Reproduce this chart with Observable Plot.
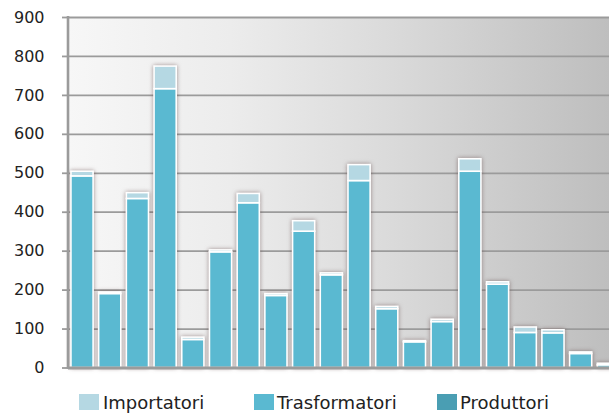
<!DOCTYPE html>
<html><head><meta charset="utf-8">
<script src="https://cdn.jsdelivr.net/npm/d3@7"></script>
<script src="https://cdn.jsdelivr.net/npm/@observablehq/plot@0.6"></script>
<style>
html,body{margin:0;padding:0;background:#fff;overflow:hidden;width:609px;height:413px;}
#chart{position:absolute;left:0;top:0;}
.leg{position:absolute;font-family:"DejaVu Sans",sans-serif;font-size:18px;color:#222;line-height:1;white-space:nowrap;}
.sw{position:absolute;width:20px;height:16px;}
</style></head><body>
<div id="chart"></div>
<div id="legend"></div>
<script>
const categories = ["1","2","3","4","5","6","7","8","9","10","11","12","13","14","15","16","17","18","19","20"];
const produttori    = [0,0,0,0,0,0,0,0,0,0,0,0,0,0,0,0,0,0,0,0];
const trasformatori = [492,190,434,716,72,297,423,185,350,238,480,151,66,118,504,214,90,89,36,7];
const importatori   = [12,4,15,58,6,5,24,5,27,5,41,6,3,6,32,6,14,8,4,4];
const seriesNames = ["Produttori","Trasformatori","Importatori"];
const seriesColors = ["#4a9eb3","#5ab9d1","#b5d8e3"];
const legendOrder = ["Importatori","Trasformatori","Produttori"];
const yTicks = [0,100,200,300,400,500,600,700,800,900];

const seriesValues = {Produttori: produttori, Trasformatori: trasformatori, Importatori: importatori};
const rows = [];
categories.forEach((c, i) => {
  for (const s of seriesNames) rows.push({cat: c, series: s, value: seriesValues[s][i]});
});
const data = rows.filter(d => d.value > 0);

const chart = Plot.plot({
  width: 609, height: 380,
  marginLeft: 68, marginRight: 0, marginTop: 17, marginBottom: 12.5,
  x: {domain: categories, range: [65.4, 625], padding: 0.2, round: false, axis: null},
  y: {domain: [0, 900], axis: null},
  color: {domain: seriesNames, range: seriesColors},
  style: {background: "transparent", fontFamily: "DejaVu Sans, sans-serif"},
  marks: [
    Plot.frame({fill: "url(#bgGrad)", stroke: "none"}),
    Plot.ruleY(yTicks.filter(v => v > 0), {stroke: "#9b9b9b", strokeWidth: 1.8}),
    Plot.axisY({ticks: yTicks, anchor: "left", label: null, tickSize: 6, tickPadding: 18, stroke: "#9b9b9b", strokeWidth: 1.8,
      fill: "#222", fontSize: 16, tickFormat: d => String(d)}),
    Plot.barY(data, {x: "cat", y: "value", fill: "series", order: seriesNames, stroke: "white", strokeWidth: 1.6}),
    Plot.ruleY([0], {stroke: "#9b9b9b", strokeWidth: 3})
  ]
});

const svg = d3.select(chart.tagName.toLowerCase() === "svg" ? chart : chart.querySelector("svg"));
const defs = svg.insert("defs", ":first-child");
const grad = defs.append("linearGradient").attr("id", "bgGrad").attr("x1", "0%").attr("x2", "100%").attr("y1", "0%").attr("y2", "0%");
[[0, "#f7f7f7"], [0.3, "#ececec"], [0.6, "#dadada"], [1, "#bebebe"]].forEach(([o, c]) =>
  grad.append("stop").attr("offset", o).attr("stop-color", c));
svg.select('g[aria-label="bar"]').style("filter", "drop-shadow(0px 0px 2px rgba(90,60,60,0.55))");
const ys = chart.scale("y");
svg.append("line")
  .attr("x1", 68).attr("x2", 68)
  .attr("y1", ys.apply(900) - 1).attr("y2", ys.apply(0) + 1.5)
  .attr("stroke", "#9b9b9b").attr("stroke-width", 2.6);
document.getElementById("chart").appendChild(chart);

const legendPos = {Importatori: [79, 103], Trasformatori: [254, 277], Produttori: [437, 460]};
const leg = document.getElementById("legend");
legendOrder.forEach(name => {
  const [sx, tx] = legendPos[name];
  const sw = document.createElement("div");
  sw.className = "sw";
  sw.style.left = sx + "px"; sw.style.top = "394px";
  sw.style.background = seriesColors[seriesNames.indexOf(name)];
  leg.appendChild(sw);
  const t = document.createElement("div");
  t.className = "leg";
  t.style.left = tx + "px"; t.style.top = "394px";
  t.textContent = name;
  leg.appendChild(t);
});
</script>
</body></html>
